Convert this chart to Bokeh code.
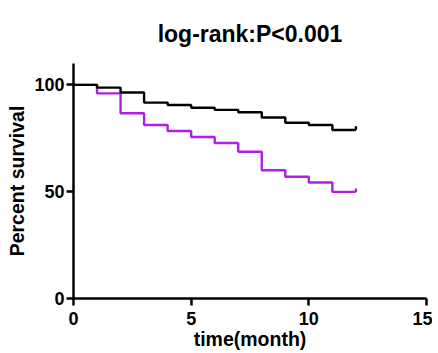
from bokeh.plotting import figure
from bokeh.embed import file_html
from bokeh.resources import INLINE
from bokeh.models import FixedTicker, Range1d

# Data
months = [0, 1, 2, 3, 4, 5, 6, 7, 8, 9, 10, 11, 12]
survival_black = [100, 98.7, 96.4, 91.7, 90.6, 89.3, 88.3, 87.2, 84.7, 82.3, 81.2, 78.9, 78.9]
survival_purple = [100, 96.0, 86.7, 81.2, 78.4, 75.6, 72.8, 68.7, 60.0, 57.0, 54.3, 49.9, 49.9]
censor_time = [12]
censor_black_top = [80.6]
censor_purple_top = [51.5]
x_ticks = [0, 5, 10, 15]
y_ticks = [0, 50, 100]

FONT = "Liberation Sans"
BLACK = "#000000"
PURPLE = "#B01FE8"

p = figure(frame_width=353, frame_height=235, output_backend="svg", toolbar_location=None,
           x_range=Range1d(0, 15), y_range=Range1d(0, 110),
           min_border_left=73, min_border_right=6, min_border_top=63, min_border_bottom=48)

p.title.text = "log-rank:P<0.001"
p.title.align = "center"
p.title.vertical_align = "top"
p.title.text_font = FONT
p.title.text_font_size = "23px"
p.title.text_font_style = "bold"
p.title.text_color = "#000000"
p.title.standoff = 30

p.outline_line_color = None
p.xgrid.visible = False
p.ygrid.visible = False
p.background_fill_color = "white"
p.border_fill_color = "white"

p.step(months, survival_purple, mode="after", line_color=PURPLE, line_width=2.4)
p.segment(x0=censor_time, y0=survival_purple[-1:], x1=censor_time, y1=censor_purple_top,
          line_color=PURPLE, line_width=2.4)
p.step(months, survival_black, mode="after", line_color=BLACK, line_width=2.4)
p.segment(x0=censor_time, y0=survival_black[-1:], x1=censor_time, y1=censor_black_top,
          line_color=BLACK, line_width=2.4)

for ax in (p.xaxis[0], p.yaxis[0]):
    ax.axis_line_width = 2.5
    ax.axis_line_color = "black"
    ax.major_tick_line_width = 2.5
    ax.major_tick_line_color = "black"
    ax.major_tick_out = 7
    ax.major_tick_in = 0
    ax.minor_tick_line_color = None
    ax.major_label_text_font = FONT
    ax.major_label_text_font_style = "bold"
    ax.major_label_text_font_size = "18px"
    ax.major_label_text_color = "black"
    ax.axis_label_text_font = FONT
    ax.axis_label_text_font_style = "bold"
    ax.axis_label_text_font_size = "19.5px"
    ax.axis_label_text_color = "black"

p.xaxis.ticker = FixedTicker(ticks=x_ticks)
p.yaxis.ticker = FixedTicker(ticks=y_ticks)
p.xaxis.axis_label = "time(month)"
p.yaxis.axis_label = "Percent survival"
p.xaxis.major_label_standoff = 6
p.xaxis.axis_label_standoff = 0
p.yaxis.major_label_standoff = 2
p.yaxis.axis_label_standoff = 3

open("out.html", "w").write(file_html(p, INLINE))
